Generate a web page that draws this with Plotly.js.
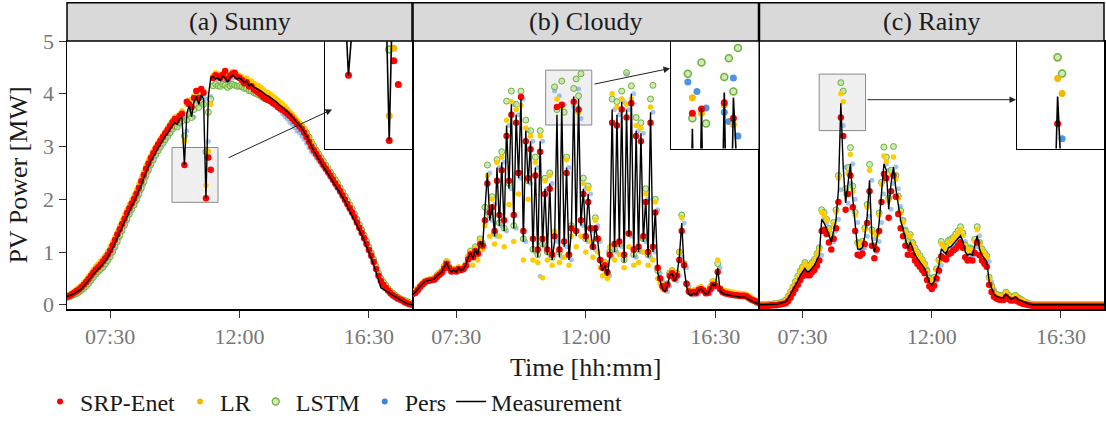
<!DOCTYPE html>
<html><head><meta charset="utf-8">
<script src="https://cdn.plot.ly/plotly-3.0.1.min.js"></script>
<style>html,body{margin:0;padding:0;background:#fff}#chart{width:1106px;height:426px}</style>
</head><body><div id="chart"></div>
<script>
// ---------- data ----------
const panelTitles = ['(a) Sunny', '(b) Cloudy', '(c) Rainy'];
const tickHours = [7.5, 12, 16.5];
const tickLabels = ['07:30', '12:00', '16:30'];
const startHour = 6;          // first sample 06:00
const stepHour = 5 / 60;      // 5-minute samples up to 18:00

// Sunny
const sunnyMeas = [
0.16,0.17,0.19,0.21,0.24,0.27,0.30,0.35,0.40,0.46,0.52,0.58,
0.64,0.68,0.72,0.77,0.83,0.90,0.98,1.07,1.17,1.27,1.38,1.48,
1.58,1.69,1.78,1.87,1.95,2.05,2.16,2.27,2.40,2.52,2.62,2.72,
2.81,2.90,2.98,3.05,3.12,3.20,3.25,3.33,3.40,3.45,3.42,3.52,
3.55,2.65,3.62,3.78,3.56,3.85,3.95,3.80,3.98,3.90,2.02,3.95,
4.30,4.32,4.28,4.30,4.25,4.33,4.30,4.22,4.30,4.35,4.32,4.28,
4.30,4.25,4.22,4.24,4.15,4.18,4.12,4.10,4.08,4.05,4.02,3.98,
3.96,3.93,3.90,3.86,3.82,3.78,3.74,3.70,3.66,3.61,3.56,3.50,
3.44,3.40,3.35,3.28,3.20,3.10,3.00,2.92,2.84,2.76,2.69,2.62,
2.55,2.48,2.41,2.34,2.27,2.20,2.12,2.04,1.96,1.87,1.79,1.71,
1.62,1.52,1.42,1.32,1.22,1.11,1.00,0.88,0.76,0.62,0.47,0.32,
null,null,null,null,null,null,null,null,0.07,0.04,0.02,0.01,
0.00];
const sunnySRP = [
0.15,0.17,0.20,0.23,0.26,0.29,0.33,0.38,0.43,0.49,0.55,0.61,
0.67,0.71,0.76,0.82,0.88,0.95,1.03,1.13,1.23,1.33,1.43,1.53,
1.63,1.74,1.83,1.92,2.01,2.11,2.22,2.34,2.46,2.58,2.68,2.78,
2.87,2.96,3.04,3.11,3.18,3.25,3.32,3.39,3.46,3.52,3.50,3.58,
3.62,2.65,3.85,3.80,3.75,3.92,4.05,3.92,4.09,4.02,2.02,2.79,
2.56,4.30,4.35,4.33,4.30,4.36,4.43,4.28,4.34,4.38,4.40,4.32,
4.30,4.26,4.20,4.22,4.14,4.14,4.08,4.05,4.02,3.98,3.94,3.90,
3.88,3.86,3.82,3.79,3.75,3.72,3.69,3.66,3.62,3.58,3.53,3.48,
3.43,3.38,3.33,3.26,3.18,3.09,3.00,2.93,2.86,2.79,2.72,2.65,
2.58,2.51,2.44,2.37,2.30,2.23,2.15,2.07,1.99,1.91,1.83,1.75,
1.66,1.56,1.46,1.36,1.26,1.15,1.04,0.93,0.81,0.68,0.55,0.45,
0.38,0.32,0.27,0.22,0.18,0.15,0.12,0.10,0.08,0.05,0.03,0.01,
0.00];
const sunnyLR = [
0.18,0.20,0.23,0.26,0.30,0.33,0.37,0.42,0.48,0.54,0.60,0.67,
0.73,0.78,0.83,0.88,0.94,1.01,1.10,1.19,1.29,1.39,1.50,1.60,
1.70,1.80,1.90,1.99,2.08,2.18,2.29,2.40,2.52,2.64,2.74,2.83,
2.92,3.00,3.08,3.15,3.22,3.29,3.36,3.43,3.50,3.56,3.58,3.62,
3.68,3.10,3.80,3.88,3.78,3.96,4.06,3.95,4.10,4.05,2.26,2.91,
3.80,4.35,4.40,4.38,4.33,4.38,4.40,4.33,4.36,4.42,4.40,4.36,
4.35,4.32,4.28,4.30,4.24,4.24,4.20,4.17,4.15,4.12,4.08,4.04,
4.02,3.99,3.95,3.92,3.88,3.84,3.80,3.76,3.71,3.66,3.61,3.56,
3.50,3.45,3.40,3.33,3.25,3.16,3.07,2.98,2.90,2.82,2.75,2.68,
2.61,2.54,2.47,2.40,2.32,2.25,2.17,2.09,2.01,1.92,1.84,1.76,
1.67,1.57,1.47,1.37,1.27,1.16,1.05,0.94,0.82,0.70,0.57,0.47,
0.40,0.34,0.29,0.24,0.20,0.17,0.14,0.12,0.10,0.07,0.05,0.03,
0.02];
const sunnyLSTM = [
0.14,0.15,0.17,0.19,0.21,0.24,0.27,0.31,0.35,0.40,0.46,0.52,
0.58,0.63,0.67,0.71,0.77,0.84,0.91,1.00,1.10,1.20,1.31,1.41,
1.51,1.62,1.72,1.81,1.89,1.99,2.10,2.21,2.33,2.45,2.56,2.66,
2.75,2.84,2.92,2.99,3.06,3.13,3.19,3.26,3.33,3.38,3.37,3.45,
3.48,3.20,3.50,3.62,3.55,3.70,3.80,3.74,3.84,3.80,2.90,3.65,
3.90,4.15,4.18,4.15,4.14,4.18,4.16,4.12,4.15,4.18,4.16,4.14,
4.15,4.13,4.10,4.10,4.06,4.05,4.02,4.00,3.98,3.95,3.92,3.90,
3.88,3.86,3.84,3.81,3.78,3.75,3.72,3.69,3.65,3.61,3.57,3.52,
3.47,3.43,3.39,3.33,3.26,3.18,3.09,3.01,2.93,2.86,2.79,2.72,
2.65,2.58,2.51,2.44,2.37,2.30,2.22,2.14,2.06,1.98,1.90,1.82,
1.72,1.62,1.52,1.42,1.32,1.21,1.10,0.98,0.86,0.73,0.60,0.50,
0.44,0.37,0.31,0.26,0.22,0.18,0.15,0.12,0.10,0.08,0.06,0.04,
0.02];
const sunnyPers = [
0.15,0.16,0.17,0.19,0.21,0.24,0.27,0.30,0.35,0.40,0.46,0.52,
0.58,0.64,0.68,0.72,0.77,0.83,0.90,0.98,1.07,1.17,1.27,1.38,
1.48,1.58,1.69,1.78,1.87,1.95,2.05,2.16,2.27,2.40,2.52,2.62,
2.72,2.81,2.90,2.98,3.05,3.12,3.20,3.25,3.33,3.40,3.45,3.42,
3.52,3.55,3.30,3.62,3.78,3.56,3.85,3.95,3.80,3.98,3.90,3.10,
3.95,4.30,4.40,4.28,4.30,4.25,4.33,4.30,4.22,4.30,4.35,4.32,
4.28,4.30,4.25,4.22,4.24,4.15,4.18,4.12,4.10,4.08,4.05,4.02,
3.98,3.92,3.86,3.80,3.74,3.68,3.62,3.57,3.52,3.46,3.42,3.36,
3.30,3.26,3.20,3.14,3.06,2.98,2.90,2.86,2.79,2.73,2.66,2.60,
2.55,2.48,2.41,2.34,2.27,2.20,2.12,2.04,1.96,1.87,1.79,1.71,
1.71,1.62,1.52,1.42,1.32,1.22,1.11,1.00,0.88,0.76,0.62,0.47,
0.36,0.30,0.25,0.20,0.16,0.13,0.10,0.08,0.06,0.04,0.02,0.01,
0.00];

// Cloudy
const cloudyMeas = [
0.20,0.24,0.30,0.36,0.40,0.44,0.45,0.46,0.47,0.49,0.55,0.58,
0.62,0.72,0.80,0.68,0.62,0.66,0.62,0.70,0.65,0.68,0.75,0.90,
0.98,0.88,1.05,0.95,1.20,1.10,1.75,2.50,1.60,1.90,1.30,2.60,
1.50,2.70,1.40,3.40,2.20,3.80,1.45,3.60,2.40,3.90,1.20,3.30,
2.30,3.10,1.00,2.60,0.90,3.10,1.10,2.20,0.95,2.30,0.85,1.20,
3.60,0.90,3.80,1.10,2.60,0.85,1.40,3.95,1.30,3.90,1.50,2.20,
1.20,2.10,1.40,1.05,1.50,1.20,0.80,0.65,0.75,0.55,0.90,3.70,
1.00,3.60,1.10,3.85,0.80,3.70,1.30,4.00,0.90,3.30,1.00,3.25,
1.20,2.00,0.90,3.65,1.00,1.80,0.60,0.45,0.30,0.25,0.35,0.55,
0.60,0.45,0.55,0.90,1.55,0.70,0.35,0.20,0.18,0.22,0.20,0.28,
0.30,0.25,0.20,0.22,0.30,0.40,0.35,0.70,0.25,0.22,0.20,0.19,
0.18,0.17,0.16,0.15,0.15,0.14,0.15,0.13,0.10,0.08,0.05,0.03,
0.02];
const cloudySRP = [
0.21,0.23,0.28,0.34,0.39,0.43,0.45,0.46,0.47,0.48,0.53,0.57,
0.61,0.69,0.78,0.70,0.63,0.65,0.63,0.68,0.66,0.68,0.74,0.86,
0.96,0.90,1.02,0.97,1.15,1.12,1.60,2.30,1.75,1.85,1.40,2.35,
1.70,2.55,1.60,3.20,2.35,3.60,1.70,3.45,2.50,3.94,1.40,3.10,
2.40,2.95,1.25,2.45,1.05,2.90,1.25,2.10,1.05,2.20,0.95,1.30,
3.75,1.05,3.79,1.20,2.50,0.95,1.45,3.85,1.40,3.70,1.60,2.10,
1.30,1.95,1.45,1.10,1.45,1.25,0.85,0.70,0.75,0.62,0.95,3.45,
1.15,3.40,1.20,3.70,0.95,3.55,1.35,3.82,1.05,3.20,1.10,3.10,
1.30,1.95,1.00,3.45,1.10,1.75,0.70,0.50,0.35,0.30,0.38,0.55,
0.60,0.50,0.55,0.85,1.40,0.75,0.40,0.25,0.22,0.24,0.22,0.28,
0.30,0.27,0.22,0.23,0.30,0.38,0.36,0.62,0.30,0.24,0.22,0.21,
0.20,0.19,0.18,0.18,0.17,0.17,0.17,0.16,0.13,0.10,0.08,0.06,
0.04];
const cloudyLR = [
0.24,0.27,0.32,0.38,0.42,0.46,0.48,0.49,0.50,0.52,0.57,0.61,
0.65,0.74,0.83,0.74,0.66,0.68,0.66,0.72,0.70,0.72,0.78,0.92,
1.00,0.75,1.08,0.85,1.22,1.05,1.50,2.45,1.30,2.00,1.15,2.70,
1.30,2.80,1.10,3.50,1.90,3.85,1.20,3.70,2.10,3.78,0.85,3.35,
2.00,3.20,0.85,2.70,0.80,3.20,0.51,2.35,0.85,2.45,0.75,1.40,
3.90,0.80,3.75,0.90,2.75,0.75,1.30,3.83,1.10,3.64,1.30,2.30,
1.00,2.20,1.20,0.90,1.60,1.00,0.70,0.55,0.80,0.50,1.10,4.00,
0.85,3.75,0.95,3.90,0.70,3.80,1.10,3.90,0.75,3.40,0.80,3.35,
1.00,2.10,0.75,3.75,0.85,1.95,0.50,0.40,0.30,0.28,0.40,0.60,
0.65,0.50,0.60,1.00,1.65,0.75,0.40,0.27,0.25,0.28,0.26,0.32,
0.34,0.30,0.26,0.27,0.35,0.45,0.40,0.85,0.32,0.28,0.27,0.26,
0.25,0.24,0.23,0.22,0.22,0.21,0.21,0.20,0.17,0.14,0.11,0.08,
0.05];
const cloudyLSTM = [
0.22,0.25,0.30,0.35,0.40,0.44,0.46,0.47,0.48,0.50,0.56,0.60,
0.64,0.73,0.82,0.72,0.65,0.67,0.65,0.70,0.68,0.70,0.76,0.90,
1.02,0.92,1.10,0.98,1.25,1.15,1.85,2.65,1.70,2.05,1.35,2.75,
1.55,2.90,1.45,3.86,2.30,4.05,1.50,3.80,2.50,4.05,1.25,3.50,
2.35,3.30,1.05,2.80,0.95,3.30,1.15,2.40,1.00,2.50,0.90,4.13,
3.70,1.00,4.24,3.65,2.80,0.95,1.50,4.10,4.28,3.96,4.38,2.40,
1.25,2.25,1.45,1.10,1.65,1.25,0.85,0.70,0.80,0.60,1.00,3.90,
1.05,3.85,1.15,4.05,0.85,4.40,1.35,4.15,0.95,3.55,1.05,3.45,
1.25,2.20,0.95,3.90,4.16,2.00,0.65,0.50,0.35,0.30,0.40,0.60,
0.65,0.50,0.60,1.00,1.70,0.78,0.40,0.25,0.22,0.26,0.24,0.30,
0.32,0.28,0.24,0.26,0.34,0.44,0.40,0.78,0.30,0.26,0.24,0.22,
0.21,0.20,0.19,0.18,0.18,0.17,0.17,0.16,0.13,0.10,0.08,0.05,
0.03];
const cloudyPers = [
0.19,0.20,0.24,0.30,0.36,0.40,0.44,0.45,0.46,0.47,0.49,0.55,
0.58,0.62,0.72,0.80,0.68,0.62,0.66,0.62,0.70,0.65,0.68,0.75,
0.90,0.98,0.88,1.05,0.95,1.20,1.10,1.75,2.50,1.60,1.90,1.30,
2.60,1.50,2.70,1.40,3.40,2.20,3.80,1.45,3.60,2.40,3.90,1.20,
3.30,2.30,3.10,1.00,2.60,0.54,3.10,1.10,2.20,0.95,2.30,4.05,
1.20,3.96,0.90,3.80,1.10,2.60,0.85,3.76,3.67,4.09,3.53,1.50,
2.20,1.20,2.10,1.40,1.05,1.50,1.20,0.80,0.65,0.75,0.55,0.90,
3.70,1.00,3.60,1.10,3.85,4.37,3.70,1.30,4.00,0.90,3.30,1.00,
3.25,1.20,2.00,0.90,3.65,1.00,1.80,0.60,0.45,0.30,0.25,0.35,
0.55,0.60,0.45,0.55,0.90,1.55,0.70,0.35,0.20,0.18,0.22,0.20,
0.28,0.30,0.25,0.20,0.22,0.30,0.40,0.35,0.70,0.25,0.22,0.20,
0.19,0.18,0.17,0.16,0.15,0.15,0.14,0.15,0.13,0.10,0.08,0.05,
0.03];

// Rainy
const rainyMeas = [
0.00,0.00,0.00,0.00,0.00,0.01,0.01,0.01,0.02,0.03,0.04,0.06,
0.12,0.20,0.28,0.36,0.45,0.55,0.62,0.69,0.62,0.64,0.70,0.75,
0.85,0.94,1.62,1.55,1.45,1.30,1.19,1.40,1.62,2.18,3.82,2.61,
1.93,2.30,2.67,2.00,1.56,1.06,1.05,1.08,1.30,1.68,2.36,1.25,
1.00,1.20,1.56,2.10,2.67,2.55,1.81,2.30,2.61,2.20,1.87,1.60,
1.44,1.25,1.06,1.19,1.05,0.95,0.88,0.82,0.75,0.69,0.55,0.42,
0.38,0.44,0.60,0.75,1.06,1.00,0.97,1.08,1.10,1.15,1.19,1.25,
1.31,1.20,1.00,0.94,0.96,0.94,1.10,1.31,1.05,0.94,0.88,0.82,
0.44,0.30,0.20,0.16,0.14,0.13,0.13,0.20,0.15,0.11,0.12,0.15,
0.10,0.08,0.06,0.04,0.02,0.01,0.00,0.00,0.00,0.00,0.00,0.00,
0.00,0.00,0.00,0.00,0.00,0.00,0.00,0.00,0.00,0.00,0.00,0.00,
0.00,0.00,0.00,0.00,0.00,0.00,0.00,0.00,0.00,0.00,0.00,0.00,
0.00];
const rainySRP = [
-0.02,-0.02,-0.02,-0.02,-0.02,-0.01,-0.01,-0.01,0.00,0.01,0.02,0.03,
0.07,0.14,0.22,0.30,0.38,0.47,0.54,0.60,0.56,0.56,0.62,0.66,
0.74,0.84,1.40,1.42,1.34,1.18,1.05,1.25,1.45,1.95,3.55,3.20,
1.80,2.10,2.45,1.85,1.40,0.95,0.93,0.97,1.15,1.55,2.15,1.12,
0.88,1.05,1.40,1.95,2.48,2.40,1.65,2.15,2.45,2.05,1.72,1.45,
1.30,1.12,0.95,1.06,0.94,0.84,0.78,0.72,0.66,0.60,0.47,0.35,
0.30,0.36,0.50,0.65,0.92,0.88,0.86,0.96,0.98,1.03,1.06,1.12,
1.18,1.08,0.90,0.84,0.85,0.84,0.98,1.18,0.94,0.84,0.78,0.72,
0.38,0.24,0.15,0.12,0.10,0.09,0.09,0.15,0.11,0.08,0.08,0.10,
0.06,0.04,0.02,0.01,0.00,-0.01,-0.02,-0.02,-0.02,-0.02,-0.02,-0.02,
-0.02,-0.02,-0.02,-0.02,-0.02,-0.02,-0.02,-0.02,-0.02,-0.02,-0.02,-0.02,
-0.02,-0.02,-0.02,-0.02,-0.02,-0.02,-0.02,-0.02,-0.02,-0.02,-0.02,-0.02,
-0.02];
const rainyLR = [
0.00,0.00,0.00,0.00,0.00,0.01,0.01,0.02,0.03,0.04,0.05,0.08,
0.15,0.24,0.33,0.42,0.52,0.62,0.70,0.78,0.72,0.72,0.78,0.84,
0.95,1.05,1.75,1.70,1.60,1.42,1.30,1.52,1.76,2.40,4.00,3.85,
2.10,2.50,2.85,2.15,1.70,1.15,1.14,1.18,1.42,1.85,2.55,1.38,
1.10,1.32,1.70,2.28,2.82,2.72,1.98,2.48,2.80,2.38,2.02,1.74,
1.56,1.36,1.16,1.30,1.15,1.05,0.97,0.90,0.83,0.76,0.62,0.48,
0.43,0.50,0.66,0.82,1.15,1.10,1.06,1.18,1.20,1.25,1.30,1.36,
1.42,1.32,1.10,1.03,1.05,1.03,1.20,1.42,1.15,1.03,0.96,0.90,
0.50,0.34,0.23,0.19,0.17,0.16,0.16,0.23,0.18,0.14,0.14,0.17,
0.12,0.10,0.08,0.05,0.03,0.02,0.01,0.00,0.00,0.00,0.00,0.00,
0.00,0.00,0.00,0.00,0.00,0.00,0.00,0.00,0.00,0.00,0.00,0.00,
0.00,0.00,0.00,0.00,0.00,0.00,0.00,0.00,0.00,0.00,0.00,0.00,
0.00];
const rainyLSTM = [
0.00,0.00,0.00,0.00,0.01,0.01,0.02,0.02,0.03,0.04,0.06,0.09,
0.16,0.25,0.34,0.44,0.54,0.64,0.72,0.80,0.74,0.75,0.80,0.86,
0.97,1.08,1.80,1.75,1.62,1.45,1.33,1.56,1.80,2.45,4.21,4.05,
2.20,2.60,2.98,2.25,1.75,1.18,1.17,1.20,1.45,1.90,2.66,1.42,
1.12,1.35,1.74,2.32,2.99,2.80,2.02,2.55,3.00,2.45,2.06,1.78,
1.60,1.40,1.20,1.33,1.18,1.08,1.00,0.93,0.86,0.78,0.64,0.50,
0.45,0.52,0.68,0.85,1.20,1.12,1.09,1.22,1.24,1.28,1.34,1.40,
1.48,1.36,1.13,1.06,1.08,1.06,1.24,1.48,1.18,1.06,0.99,0.93,
0.52,0.36,0.25,0.20,0.18,0.17,0.17,0.24,0.19,0.15,0.15,0.18,
0.13,0.11,0.08,0.05,0.03,0.02,0.01,0.00,0.00,0.00,0.00,0.00,
0.00,0.00,0.00,0.00,0.00,0.00,0.00,0.00,0.00,0.00,0.00,0.00,
0.00,0.00,0.00,0.00,0.00,0.00,0.00,0.00,0.00,0.00,0.00,0.00,
0.00];
const rainyPers = [
0.00,0.00,0.00,0.00,0.00,0.00,0.01,0.01,0.01,0.02,0.03,0.04,
0.06,0.12,0.20,0.28,0.36,0.45,0.55,0.62,0.69,0.62,0.64,0.70,
0.75,0.85,0.94,1.62,1.55,1.45,1.30,1.19,1.40,1.62,2.18,3.40,
2.61,1.93,2.30,2.67,2.00,1.56,1.06,1.05,1.08,1.30,1.68,2.36,
1.25,1.00,1.20,1.56,2.10,2.67,2.55,1.81,2.30,2.61,2.20,1.87,
1.60,1.44,1.25,1.06,1.19,1.05,0.95,0.88,0.82,0.75,0.69,0.55,
0.42,0.38,0.44,0.60,0.75,1.06,1.00,0.97,1.08,1.10,1.15,1.19,
1.25,1.31,1.20,1.00,0.94,0.96,0.94,1.10,1.31,1.05,0.94,0.88,
0.82,0.44,0.30,0.20,0.16,0.14,0.13,0.13,0.20,0.15,0.11,0.12,
0.15,0.10,0.08,0.06,0.04,0.02,0.01,0.00,0.00,0.00,0.00,0.00,
0.00,0.00,0.00,0.00,0.00,0.00,0.00,0.00,0.00,0.00,0.00,0.00,
0.00,0.00,0.00,0.00,0.00,0.00,0.00,0.00,0.00,0.00,0.00,0.00,
0.00];

// zoom windows shown in the insets (hours, MW)
const zoomHours = [[9.652, 11.252], [10.609, 12.209], [8.08, 9.694]];
const zoomMW = [[1.942, 2.981], [3.408, 4.447], [3.302, 4.373]];

// ---------- layout helpers ----------
const W = 1106, H = 426, ML = 67, MR = 2, MT = 41, MB = 111;
const PW = W - ML - MR, PH = H - MT - MB;
const fx = p => (p - ML) / PW;
const fy = p => (H - MB - p) / PH;
const FONT = "'Liberation Serif', 'Times New Roman', Times, serif";

const panelPx = [[67, 412], [413, 758.5], [759.5, 1104]];
const insetPx = [[325, 412], [671, 758.5], [1017, 1104]];
const insetTop = 41, insetBottom = 151;
const arrows = [ // [tailX, tailY, headX, headY] in px
  [227, 160, 332, 111], [593, 85, 670, 69], [866, 101, 1016, 101]];

const panels = [
  {meas: sunnyMeas, srp: sunnySRP, lr: sunnyLR, lstm: sunnyLSTM, pers: sunnyPers},
  {meas: cloudyMeas, srp: cloudySRP, lr: cloudyLR, lstm: cloudyLSTM, pers: cloudyPers},
  {meas: rainyMeas, srp: rainySRP, lr: rainyLR, lstm: rainyLSTM, pers: rainyPers}];

const styles = {
  pers: {name: 'Pers', rank: 4,
    main: {color: 'rgba(70,140,220,0.5)', size: 5},
    inset: {color: 'rgba(60,135,225,0.9)', size: 7},
    legend: {color: '#3d85d6', size: 6}},
  lstm: {name: 'LSTM', rank: 3,
    main: {color: 'rgba(175,220,130,0.6)', size: 6, line: {color: '#6fb03e', width: 1}},
    inset: {color: 'rgba(175,220,130,0.6)', size: 7, line: {color: '#6fb03e', width: 1.5}},
    legend: {color: 'rgba(175,220,130,0.6)', size: 7, line: {color: '#6fb03e', width: 1.3}}},
  lr: {name: 'LR', rank: 2,
    main: {color: '#ffcc00', size: 5.5},
    inset: {color: '#f7b900', size: 7},
    legend: {color: '#f5b800', size: 6}},
  srp: {name: 'SRP-Enet', rank: 1,
    main: {color: '#ff0000', size: 6.5},
    inset: {color: '#ff0000', size: 7},
    legend: {color: '#ff0000', size: 6}}
};
const order = ['pers', 'lstm', 'lr', 'srp'];

const traces = [];
panels.forEach((pd, p) => {
  const xm = p === 0 ? 'x' : 'x' + (p + 1), ym = p === 0 ? 'y' : 'y' + (p + 1);
  const xi = 'x' + (p + 4), yi = 'y' + (p + 4);
  [[xm, ym, 'main'], [xi, yi, 'inset']].forEach(([xa, ya, kind]) => {
    order.forEach(k => {
      traces.push({
        type: 'scatter', mode: 'markers', name: styles[k].name,
        x0: startHour, dx: stepHour, y: pd[k], xaxis: xa, yaxis: ya,
        marker: styles[k][kind], showlegend: false, hoverinfo: 'skip'
      });
    });
    traces.push({
      type: 'scatter', mode: 'lines', name: 'Measurement',
      x0: startHour, dx: stepHour, y: pd.meas, xaxis: xa, yaxis: ya,
      line: {color: '#000', width: kind === 'main' ? 1.4 : 1.6}, connectgaps: true,
      showlegend: false, hoverinfo: 'skip'
    });
  });
});
// legend entries (no data, only the key)
['srp', 'lr', 'lstm', 'pers'].forEach(k => {
  traces.push({type: 'scatter', mode: 'markers', name: styles[k].name, x: [null], y: [null],
    marker: styles[k].legend, legendrank: styles[k].rank, showlegend: true, hoverinfo: 'skip'});
});
traces.push({type: 'scatter', mode: 'lines', name: 'Measurement', x: [null], y: [null],
  line: {color: '#000', width: 1.6}, legendrank: 5, showlegend: true, hoverinfo: 'skip'});

const layout = {
  width: W, height: H,
  margin: {l: ML, r: MR, t: MT, b: MB},
  paper_bgcolor: '#fff', plot_bgcolor: '#fff',
  font: {family: FONT, color: '#1a1a1a'},
  showlegend: true,
  legend: {orientation: 'h', x: -0.026, xanchor: 'left', y: fy(410), yanchor: 'middle',
    font: {family: FONT, size: 24, color: '#1a1a1a'}, traceorder: 'normal',
    itemwidth: 30, bgcolor: 'rgba(0,0,0,0)'},
  shapes: [], annotations: []
};

for (let p = 0; p < 3; p++) {
  const sx = p === 0 ? '' : String(p + 1);
  const dom = [fx(panelPx[p][0]), fx(panelPx[p][1])];
  layout['xaxis' + sx] = {
    domain: dom, anchor: 'y' + sx, range: [6, 18],
    tickvals: tickHours, ticktext: tickLabels,
    ticks: 'outside', ticklen: 7, tickwidth: 1, tickcolor: '#333',
    tickfont: {family: FONT, size: 22, color: '#777'},
    showline: true, mirror: true, linecolor: '#000', linewidth: 1.5,
    showgrid: false, zeroline: false
  };
  layout['yaxis' + sx] = {
    domain: [0, 1], anchor: 'x' + sx, range: [-0.08, 5],
    tickvals: [0, 1, 2, 3, 4, 5],
    ticks: p === 0 ? 'outside' : '', ticklen: 7, tickwidth: 1, tickcolor: '#333',
    showticklabels: p === 0,
    tickfont: {family: FONT, size: 22, color: '#777'},
    showline: true, mirror: true, linecolor: '#000', linewidth: 1.5,
    showgrid: false, zeroline: false
  };
  const ix = String(p + 4);
  layout['xaxis' + ix] = {
    domain: [fx(insetPx[p][0]), fx(insetPx[p][1])], anchor: 'y' + ix,
    range: zoomHours[p], showticklabels: false, ticks: '',
    showline: true, mirror: true, linecolor: '#000', linewidth: 1.2,
    showgrid: false, zeroline: false
  };
  layout['yaxis' + ix] = {
    domain: [fy(insetBottom), fy(insetTop)], anchor: 'x' + ix,
    range: zoomMW[p], showticklabels: false, ticks: '',
    showline: true, mirror: true, linecolor: '#000', linewidth: 1.2,
    showgrid: false, zeroline: false
  };
  layout.shapes.push({type: 'rect', xref: 'paper', yref: 'paper',
    x0: dom[0], x1: dom[1], y0: 1, y1: fy(2),
    fillcolor: '#d9d9d9', line: {color: '#000', width: 1.5}});
  layout.annotations.push({xref: 'paper', yref: 'paper', x: (dom[0] + dom[1]) / 2,
    y: fy(21.5), text: panelTitles[p], showarrow: false, xanchor: 'center', yanchor: 'middle',
    font: {family: FONT, size: 26, color: '#1a1a1a'}});
  layout.shapes.push({type: 'rect', xref: 'x' + sx, yref: 'y' + sx, layer: 'below',
    x0: zoomHours[p][0], x1: zoomHours[p][1], y0: zoomMW[p][0], y1: zoomMW[p][1],
    fillcolor: '#f0f0f0', line: {color: '#8a8a8a', width: 1}});
  const a = arrows[p];
  layout.annotations.push({xref: 'paper', yref: 'paper', x: fx(a[2]), y: fy(a[3]),
    ax: a[0] - a[2], ay: a[1] - a[3], text: '', showarrow: true,
    arrowhead: 2, arrowsize: 1.3, arrowwidth: 1, arrowcolor: '#222'});
}
layout.yaxis.title = {text: 'PV Power [MW]', font: {family: FONT, size: 26, color: '#1a1a1a'}, standoff: 8};
layout.xaxis2.title = {text: 'Time [hh:mm]', font: {family: FONT, size: 26, color: '#1a1a1a'}, standoff: 10};

Plotly.newPlot('chart', traces, layout, {displayModeBar: false, staticPlot: true});
</script>
</body></html>
